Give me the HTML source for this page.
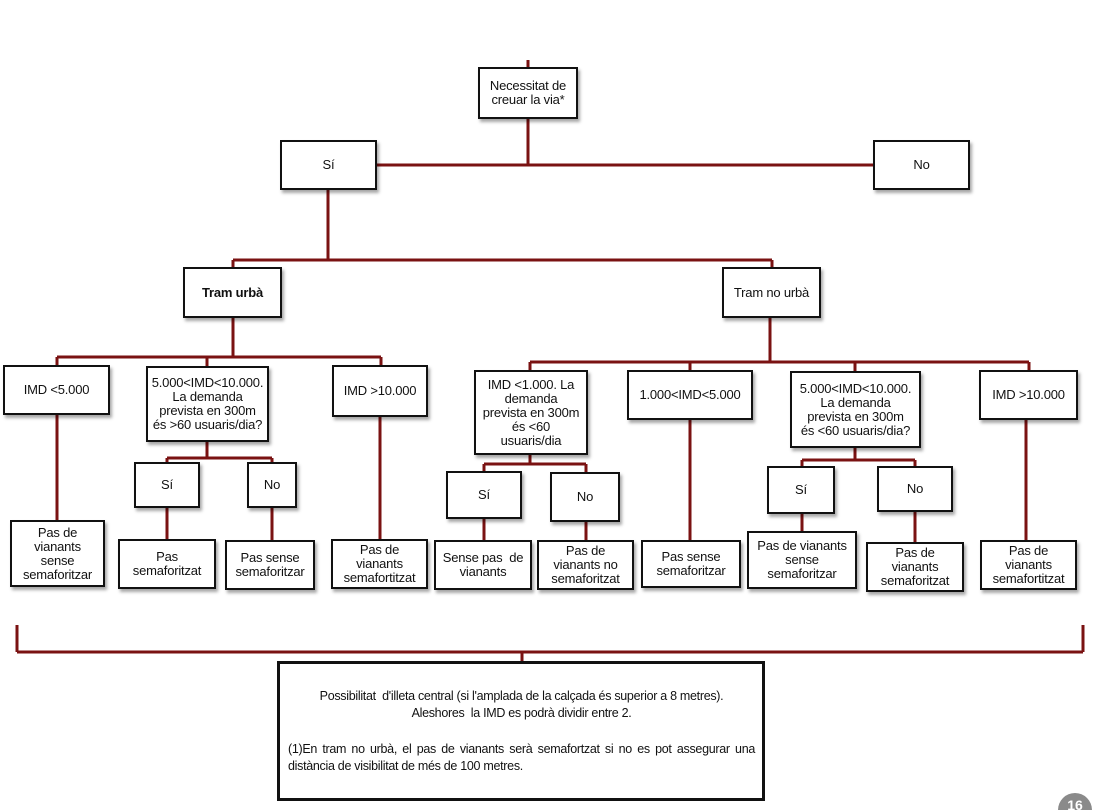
<!DOCTYPE html>
<html><head><meta charset="utf-8"><style>
body{margin:0;width:1098px;height:810px;background:#fff;position:relative;overflow:hidden;font-family:"Liberation Sans",Arial,sans-serif;}
.b{position:absolute;box-sizing:border-box;border:2px solid #111;background:#fff;box-shadow:2px 3px 3px rgba(0,0,0,0.35);display:flex;align-items:center;justify-content:center;text-align:center;font-size:13px;line-height:14px;color:#111;letter-spacing:-0.2px;}
svg{position:absolute;left:0;top:0;}
</style></head><body>
<svg width="1098" height="810">
<g stroke="#7a1212" stroke-width="3" fill="none">
<path d="M528 60V67 M528 119V165 M377 165H873"/>
<path d="M328 190V260 M233 260H772 M233 260V267 M772 260V267"/>
<path d="M233 318V357 M57 357H381 M57 357V365 M207 357V366 M381 357V365"/>
<path d="M770 318V362 M530 362H1029 M530 362V370 M690 362V370 M855 362V371 M1029 362V370"/>
<path d="M57 415V520 M207 442V458 M167 458H272 M167 458V462 M272 458V462 M167 508V539 M272 508V540 M380 417V539"/>
<path d="M530 455V464 M484 464H586 M484 464V471 M586 464V472 M484 519V540 M586 522V540 M690 420V540"/>
<path d="M855 448V460 M802 460H915 M802 460V466 M915 460V466 M802 514V531 M915 512V542 M1026 420V540"/>
<path d="M17 625V652 M1083 625V652 M17 652H1083 M522 652V662"/>
</g>
<circle cx="1075" cy="810" r="17" fill="#8a8a8a"/>
<text x="1075" y="810" fill="#fff" font-family="Liberation Sans" font-weight="bold" font-size="14" text-anchor="middle">16</text>
</svg>
<div class="b" style="left:478px;top:67px;width:100px;height:52px;">Necessitat de<br>creuar la via*</div>
<div class="b" style="left:280px;top:140px;width:97px;height:50px;">Sí</div>
<div class="b" style="left:873px;top:140px;width:97px;height:50px;">No</div>
<div class="b" style="left:183px;top:267px;width:99px;height:51px;font-weight:bold;">Tram urbà</div>
<div class="b" style="left:722px;top:267px;width:99px;height:51px;">Tram no urbà</div>
<div class="b" style="left:3px;top:365px;width:107px;height:50px;">IMD &lt;5.000</div>
<div class="b" style="left:146px;top:366px;width:123px;height:76px;">5.000&lt;IMD&lt;10.000.<br>La demanda<br>prevista en 300m<br>és &gt;60 usuaris/dia?</div>
<div class="b" style="left:332px;top:365px;width:96px;height:52px;">IMD &gt;10.000</div>
<div class="b" style="left:474px;top:370px;width:114px;height:85px;">IMD &lt;1.000. La<br>demanda<br>prevista en 300m<br>és &lt;60<br>usuaris/dia</div>
<div class="b" style="left:627px;top:370px;width:126px;height:50px;">1.000&lt;IMD&lt;5.000</div>
<div class="b" style="left:790px;top:371px;width:131px;height:77px;">5.000&lt;IMD&lt;10.000.<br>La demanda<br>prevista en 300m<br>és &lt;60 usuaris/dia?</div>
<div class="b" style="left:979px;top:370px;width:99px;height:50px;">IMD &gt;10.000</div>
<div class="b" style="left:134px;top:462px;width:66px;height:46px;">Sí</div>
<div class="b" style="left:247px;top:462px;width:50px;height:46px;">No</div>
<div class="b" style="left:446px;top:471px;width:76px;height:48px;">Sí</div>
<div class="b" style="left:550px;top:472px;width:70px;height:50px;">No</div>
<div class="b" style="left:767px;top:466px;width:68px;height:48px;">Sí</div>
<div class="b" style="left:877px;top:466px;width:76px;height:46px;">No</div>
<div class="b" style="left:10px;top:520px;width:95px;height:67px;">Pas de<br>vianants<br>sense<br>semaforitzar</div>
<div class="b" style="left:118px;top:539px;width:98px;height:50px;">Pas<br>semaforitzat</div>
<div class="b" style="left:225px;top:540px;width:90px;height:50px;">Pas sense<br>semaforitzar</div>
<div class="b" style="left:331px;top:539px;width:97px;height:50px;">Pas de<br>vianants<br>semafortitzat</div>
<div class="b" style="left:434px;top:540px;width:98px;height:50px;">Sense pas&nbsp; de<br>vianants</div>
<div class="b" style="left:537px;top:540px;width:97px;height:50px;">Pas de<br>vianants no<br>semaforitzat</div>
<div class="b" style="left:641px;top:540px;width:100px;height:48px;">Pas sense<br>semaforitzar</div>
<div class="b" style="left:747px;top:531px;width:110px;height:58px;">Pas de vianants<br>sense<br>semaforitzar</div>
<div class="b" style="left:866px;top:542px;width:98px;height:50px;">Pas de<br>vianants<br>semaforitzat</div>
<div class="b" style="left:980px;top:540px;width:97px;height:50px;">Pas de<br>vianants<br>semafortitzat</div>
<div class="b" style="left:277px;top:661px;width:488px;height:140px;border-width:3px;box-shadow:none;display:block;font-size:12.5px;line-height:17px;padding:24px 7px 0 8px;letter-spacing:-0.3px;">
<div style="text-align:center;">Possibilitat&nbsp; d'illeta central (si l'amplada de la calçada és superior a 8 metres).<br>Aleshores&nbsp; la IMD es podrà dividir entre 2.</div>
<div style="text-align:justify;margin-top:19px;">(1)En tram no urbà, el pas de vianants serà semafortzat si no es pot assegurar una distància de visibilitat de més de 100 metres.</div>
</div>
</body></html>
